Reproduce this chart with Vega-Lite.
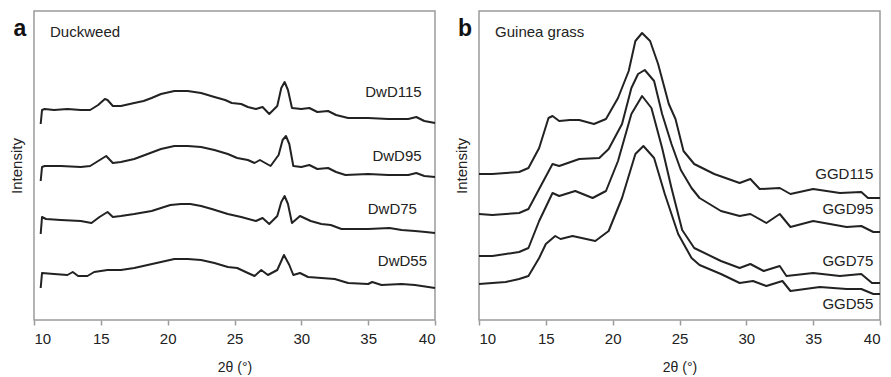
{
  "$schema": "https://vega.github.io/schema/vega-lite/v6.json",
  "background": "white",
  "padding": {"left": 8, "top": 10, "right": 8, "bottom": 2},
  "bounds": "flush",
  "spacing": 44,
  "config": {
    "font": "Liberation Sans",
    "view": {"stroke": "#9a9a9a", "strokeWidth": 1.5},
    "axisX": {
      "grid": false,
      "domain": false,
      "tickSize": 5,
      "tickColor": "#9a9a9a",
      "tickWidth": 1.5,
      "labelFontSize": 15,
      "labelColor": "#222",
      "labelPadding": 6,
      "titleFontSize": 14,
      "titleFontWeight": "normal",
      "titleColor": "#222",
      "titlePadding": 14
    },
    "axisY": {
      "grid": false,
      "domain": false,
      "ticks": false,
      "labels": false,
      "titleFontSize": 15,
      "titleFontWeight": "normal",
      "titleColor": "#222",
      "titlePadding": 10
    }
  },
  "datasets": {
    "dw": [
      {"s": "DwD115", "x": 10.5, "y": 196}, {"s": "DwD115", "x": 10.6, "y": 210}, {"s": "DwD115", "x": 10.8, "y": 211}, {"s": "DwD115", "x": 11.5, "y": 210}, {"s": "DwD115", "x": 12.5, "y": 211}, {"s": "DwD115", "x": 13.5, "y": 210}, {"s": "DwD115", "x": 14.2, "y": 210}, {"s": "DwD115", "x": 14.8, "y": 215}, {"s": "DwD115", "x": 15.3, "y": 221}, {"s": "DwD115", "x": 15.5, "y": 220}, {"s": "DwD115", "x": 15.9, "y": 214}, {"s": "DwD115", "x": 16.5, "y": 214}, {"s": "DwD115", "x": 17.5, "y": 217}, {"s": "DwD115", "x": 18.2, "y": 219}, {"s": "DwD115", "x": 18.8, "y": 222}, {"s": "DwD115", "x": 19.5, "y": 226}, {"s": "DwD115", "x": 20.5, "y": 229}, {"s": "DwD115", "x": 21.5, "y": 229}, {"s": "DwD115", "x": 22.5, "y": 227}, {"s": "DwD115", "x": 23.5, "y": 223}, {"s": "DwD115", "x": 24.3, "y": 220}, {"s": "DwD115", "x": 24.8, "y": 217}, {"s": "DwD115", "x": 25.5, "y": 216}, {"s": "DwD115", "x": 26.0, "y": 213}, {"s": "DwD115", "x": 26.6, "y": 211}, {"s": "DwD115", "x": 27.1, "y": 213}, {"s": "DwD115", "x": 27.6, "y": 206}, {"s": "DwD115", "x": 28.2, "y": 214}, {"s": "DwD115", "x": 28.5, "y": 232}, {"s": "DwD115", "x": 28.75, "y": 238}, {"s": "DwD115", "x": 29.0, "y": 230}, {"s": "DwD115", "x": 29.3, "y": 212}, {"s": "DwD115", "x": 30.0, "y": 211}, {"s": "DwD115", "x": 30.6, "y": 212}, {"s": "DwD115", "x": 31.2, "y": 208}, {"s": "DwD115", "x": 32.0, "y": 209}, {"s": "DwD115", "x": 32.6, "y": 205}, {"s": "DwD115", "x": 33.5, "y": 202}, {"s": "DwD115", "x": 35.0, "y": 202}, {"s": "DwD115", "x": 36.5, "y": 201}, {"s": "DwD115", "x": 38.0, "y": 201}, {"s": "DwD115", "x": 38.6, "y": 203}, {"s": "DwD115", "x": 39.2, "y": 199}, {"s": "DwD115", "x": 40.0, "y": 197},

      {"s": "DwD95", "x": 10.5, "y": 139}, {"s": "DwD95", "x": 10.6, "y": 153}, {"s": "DwD95", "x": 10.8, "y": 154}, {"s": "DwD95", "x": 12.0, "y": 154}, {"s": "DwD95", "x": 13.5, "y": 153}, {"s": "DwD95", "x": 14.2, "y": 154}, {"s": "DwD95", "x": 14.8, "y": 159}, {"s": "DwD95", "x": 15.4, "y": 164}, {"s": "DwD95", "x": 15.9, "y": 157}, {"s": "DwD95", "x": 16.5, "y": 158}, {"s": "DwD95", "x": 17.5, "y": 161}, {"s": "DwD95", "x": 18.5, "y": 166}, {"s": "DwD95", "x": 19.5, "y": 171}, {"s": "DwD95", "x": 20.5, "y": 174}, {"s": "DwD95", "x": 21.5, "y": 174}, {"s": "DwD95", "x": 22.5, "y": 173}, {"s": "DwD95", "x": 23.5, "y": 170}, {"s": "DwD95", "x": 24.5, "y": 166}, {"s": "DwD95", "x": 25.2, "y": 162}, {"s": "DwD95", "x": 26.0, "y": 160}, {"s": "DwD95", "x": 26.5, "y": 157}, {"s": "DwD95", "x": 26.9, "y": 160}, {"s": "DwD95", "x": 27.3, "y": 157}, {"s": "DwD95", "x": 27.7, "y": 154}, {"s": "DwD95", "x": 28.3, "y": 165}, {"s": "DwD95", "x": 28.6, "y": 180}, {"s": "DwD95", "x": 28.85, "y": 184}, {"s": "DwD95", "x": 29.1, "y": 176}, {"s": "DwD95", "x": 29.4, "y": 154}, {"s": "DwD95", "x": 30.0, "y": 153}, {"s": "DwD95", "x": 30.6, "y": 155}, {"s": "DwD95", "x": 31.2, "y": 151}, {"s": "DwD95", "x": 32.0, "y": 152}, {"s": "DwD95", "x": 32.6, "y": 148}, {"s": "DwD95", "x": 33.3, "y": 145}, {"s": "DwD95", "x": 35.0, "y": 146}, {"s": "DwD95", "x": 36.5, "y": 145}, {"s": "DwD95", "x": 38.0, "y": 145}, {"s": "DwD95", "x": 38.6, "y": 147}, {"s": "DwD95", "x": 39.2, "y": 144}, {"s": "DwD95", "x": 40.0, "y": 143},

      {"s": "DwD75", "x": 10.5, "y": 86}, {"s": "DwD75", "x": 10.6, "y": 103}, {"s": "DwD75", "x": 10.9, "y": 101}, {"s": "DwD75", "x": 12.0, "y": 100}, {"s": "DwD75", "x": 13.5, "y": 99}, {"s": "DwD75", "x": 14.3, "y": 97}, {"s": "DwD75", "x": 14.9, "y": 103}, {"s": "DwD75", "x": 15.5, "y": 108}, {"s": "DwD75", "x": 15.9, "y": 103}, {"s": "DwD75", "x": 16.5, "y": 104}, {"s": "DwD75", "x": 17.5, "y": 106}, {"s": "DwD75", "x": 18.8, "y": 109}, {"s": "DwD75", "x": 20.2, "y": 115}, {"s": "DwD75", "x": 21.0, "y": 116}, {"s": "DwD75", "x": 21.7, "y": 116}, {"s": "DwD75", "x": 22.5, "y": 114}, {"s": "DwD75", "x": 23.3, "y": 111}, {"s": "DwD75", "x": 24.5, "y": 106}, {"s": "DwD75", "x": 25.5, "y": 103}, {"s": "DwD75", "x": 26.6, "y": 99}, {"s": "DwD75", "x": 27.1, "y": 102}, {"s": "DwD75", "x": 27.6, "y": 96}, {"s": "DwD75", "x": 28.2, "y": 104}, {"s": "DwD75", "x": 28.5, "y": 118}, {"s": "DwD75", "x": 28.75, "y": 124}, {"s": "DwD75", "x": 29.0, "y": 116}, {"s": "DwD75", "x": 29.3, "y": 97}, {"s": "DwD75", "x": 29.9, "y": 104}, {"s": "DwD75", "x": 30.7, "y": 99}, {"s": "DwD75", "x": 31.5, "y": 96}, {"s": "DwD75", "x": 32.2, "y": 95}, {"s": "DwD75", "x": 33.0, "y": 91}, {"s": "DwD75", "x": 35.0, "y": 91}, {"s": "DwD75", "x": 36.6, "y": 92}, {"s": "DwD75", "x": 37.5, "y": 90}, {"s": "DwD75", "x": 38.5, "y": 89}, {"s": "DwD75", "x": 39.3, "y": 88}, {"s": "DwD75", "x": 40.0, "y": 87},

      {"s": "DwD55", "x": 10.5, "y": 32}, {"s": "DwD55", "x": 10.6, "y": 47}, {"s": "DwD55", "x": 11.5, "y": 46}, {"s": "DwD55", "x": 12.5, "y": 45}, {"s": "DwD55", "x": 12.9, "y": 48}, {"s": "DwD55", "x": 13.3, "y": 44}, {"s": "DwD55", "x": 14.0, "y": 44}, {"s": "DwD55", "x": 14.5, "y": 48}, {"s": "DwD55", "x": 15.5, "y": 50}, {"s": "DwD55", "x": 16.5, "y": 50}, {"s": "DwD55", "x": 17.5, "y": 52}, {"s": "DwD55", "x": 18.5, "y": 55}, {"s": "DwD55", "x": 19.5, "y": 58}, {"s": "DwD55", "x": 20.5, "y": 61}, {"s": "DwD55", "x": 21.5, "y": 61}, {"s": "DwD55", "x": 22.5, "y": 60}, {"s": "DwD55", "x": 23.5, "y": 57}, {"s": "DwD55", "x": 24.5, "y": 53}, {"s": "DwD55", "x": 25.2, "y": 52}, {"s": "DwD55", "x": 26.0, "y": 47}, {"s": "DwD55", "x": 26.5, "y": 44}, {"s": "DwD55", "x": 27.0, "y": 50}, {"s": "DwD55", "x": 27.5, "y": 45}, {"s": "DwD55", "x": 28.2, "y": 50}, {"s": "DwD55", "x": 28.7, "y": 65}, {"s": "DwD55", "x": 29.1, "y": 55}, {"s": "DwD55", "x": 29.4, "y": 45}, {"s": "DwD55", "x": 29.9, "y": 47}, {"s": "DwD55", "x": 30.5, "y": 43}, {"s": "DwD55", "x": 31.5, "y": 42}, {"s": "DwD55", "x": 32.5, "y": 41}, {"s": "DwD55", "x": 33.5, "y": 37}, {"s": "DwD55", "x": 35.0, "y": 36}, {"s": "DwD55", "x": 35.3, "y": 38}, {"s": "DwD55", "x": 36.0, "y": 35}, {"s": "DwD55", "x": 37.5, "y": 36}, {"s": "DwD55", "x": 38.5, "y": 35}, {"s": "DwD55", "x": 40.0, "y": 32}
    ],
    "gg": [
      {"s": "GGD115", "x": 10.0, "y": 146}, {"s": "GGD115", "x": 11.0, "y": 146}, {"s": "GGD115", "x": 12.0, "y": 147}, {"s": "GGD115", "x": 13.0, "y": 148}, {"s": "GGD115", "x": 13.7, "y": 152}, {"s": "GGD115", "x": 14.5, "y": 172}, {"s": "GGD115", "x": 15.2, "y": 202}, {"s": "GGD115", "x": 15.5, "y": 204}, {"s": "GGD115", "x": 16.0, "y": 199}, {"s": "GGD115", "x": 16.8, "y": 200}, {"s": "GGD115", "x": 17.5, "y": 200}, {"s": "GGD115", "x": 18.6, "y": 196}, {"s": "GGD115", "x": 19.5, "y": 201}, {"s": "GGD115", "x": 20.4, "y": 222}, {"s": "GGD115", "x": 21.2, "y": 249}, {"s": "GGD115", "x": 21.7, "y": 279}, {"s": "GGD115", "x": 22.2, "y": 287}, {"s": "GGD115", "x": 22.8, "y": 279}, {"s": "GGD115", "x": 23.4, "y": 256}, {"s": "GGD115", "x": 24.2, "y": 216}, {"s": "GGD115", "x": 24.7, "y": 201}, {"s": "GGD115", "x": 25.3, "y": 169}, {"s": "GGD115", "x": 26.1, "y": 156}, {"s": "GGD115", "x": 27.6, "y": 146}, {"s": "GGD115", "x": 29.5, "y": 137}, {"s": "GGD115", "x": 30.3, "y": 141}, {"s": "GGD115", "x": 31.0, "y": 131}, {"s": "GGD115", "x": 32.5, "y": 132}, {"s": "GGD115", "x": 33.3, "y": 126}, {"s": "GGD115", "x": 35.0, "y": 131}, {"s": "GGD115", "x": 37.0, "y": 127}, {"s": "GGD115", "x": 38.6, "y": 128}, {"s": "GGD115", "x": 39.1, "y": 122}, {"s": "GGD115", "x": 40.0, "y": 122},

      {"s": "GGD95", "x": 10.0, "y": 106}, {"s": "GGD95", "x": 11.0, "y": 105}, {"s": "GGD95", "x": 12.0, "y": 106}, {"s": "GGD95", "x": 13.0, "y": 107}, {"s": "GGD95", "x": 13.7, "y": 111}, {"s": "GGD95", "x": 14.7, "y": 136}, {"s": "GGD95", "x": 15.5, "y": 156}, {"s": "GGD95", "x": 16.0, "y": 154}, {"s": "GGD95", "x": 17.5, "y": 161}, {"s": "GGD95", "x": 19.0, "y": 162}, {"s": "GGD95", "x": 19.7, "y": 171}, {"s": "GGD95", "x": 20.7, "y": 196}, {"s": "GGD95", "x": 21.4, "y": 232}, {"s": "GGD95", "x": 21.9, "y": 246}, {"s": "GGD95", "x": 22.4, "y": 250}, {"s": "GGD95", "x": 23.1, "y": 239}, {"s": "GGD95", "x": 23.7, "y": 206}, {"s": "GGD95", "x": 24.4, "y": 176}, {"s": "GGD95", "x": 25.1, "y": 150}, {"s": "GGD95", "x": 25.9, "y": 132}, {"s": "GGD95", "x": 26.5, "y": 122}, {"s": "GGD95", "x": 28.1, "y": 109}, {"s": "GGD95", "x": 29.5, "y": 104}, {"s": "GGD95", "x": 30.3, "y": 106}, {"s": "GGD95", "x": 31.5, "y": 97}, {"s": "GGD95", "x": 32.5, "y": 106}, {"s": "GGD95", "x": 33.3, "y": 93}, {"s": "GGD95", "x": 35.0, "y": 99}, {"s": "GGD95", "x": 37.5, "y": 93}, {"s": "GGD95", "x": 38.6, "y": 94}, {"s": "GGD95", "x": 39.5, "y": 88}, {"s": "GGD95", "x": 40.0, "y": 88},

      {"s": "GGD75", "x": 10.0, "y": 64}, {"s": "GGD75", "x": 11.0, "y": 64}, {"s": "GGD75", "x": 12.0, "y": 66}, {"s": "GGD75", "x": 13.0, "y": 68}, {"s": "GGD75", "x": 13.7, "y": 72}, {"s": "GGD75", "x": 14.5, "y": 99}, {"s": "GGD75", "x": 15.5, "y": 127}, {"s": "GGD75", "x": 16.0, "y": 124}, {"s": "GGD75", "x": 17.2, "y": 129}, {"s": "GGD75", "x": 18.5, "y": 122}, {"s": "GGD75", "x": 19.5, "y": 129}, {"s": "GGD75", "x": 20.4, "y": 159}, {"s": "GGD75", "x": 21.4, "y": 206}, {"s": "GGD75", "x": 22.2, "y": 224}, {"s": "GGD75", "x": 22.9, "y": 212}, {"s": "GGD75", "x": 23.7, "y": 172}, {"s": "GGD75", "x": 24.4, "y": 132}, {"s": "GGD75", "x": 25.2, "y": 90}, {"s": "GGD75", "x": 26.1, "y": 72}, {"s": "GGD75", "x": 28.1, "y": 59}, {"s": "GGD75", "x": 29.5, "y": 52}, {"s": "GGD75", "x": 30.3, "y": 56}, {"s": "GGD75", "x": 31.3, "y": 49}, {"s": "GGD75", "x": 32.5, "y": 54}, {"s": "GGD75", "x": 33.0, "y": 44}, {"s": "GGD75", "x": 35.0, "y": 47}, {"s": "GGD75", "x": 37.0, "y": 44}, {"s": "GGD75", "x": 38.6, "y": 46}, {"s": "GGD75", "x": 39.4, "y": 37}, {"s": "GGD75", "x": 40.0, "y": 37},

      {"s": "GGD55", "x": 10.0, "y": 36}, {"s": "GGD55", "x": 11.0, "y": 37}, {"s": "GGD55", "x": 12.0, "y": 38}, {"s": "GGD55", "x": 13.0, "y": 41}, {"s": "GGD55", "x": 13.7, "y": 44}, {"s": "GGD55", "x": 14.5, "y": 62}, {"s": "GGD55", "x": 15.0, "y": 76}, {"s": "GGD55", "x": 15.7, "y": 84}, {"s": "GGD55", "x": 16.1, "y": 81}, {"s": "GGD55", "x": 17.0, "y": 84}, {"s": "GGD55", "x": 18.7, "y": 79}, {"s": "GGD55", "x": 19.7, "y": 89}, {"s": "GGD55", "x": 20.7, "y": 122}, {"s": "GGD55", "x": 21.7, "y": 166}, {"s": "GGD55", "x": 22.3, "y": 174}, {"s": "GGD55", "x": 23.1, "y": 162}, {"s": "GGD55", "x": 23.9, "y": 126}, {"s": "GGD55", "x": 24.9, "y": 86}, {"s": "GGD55", "x": 25.9, "y": 62}, {"s": "GGD55", "x": 26.5, "y": 55}, {"s": "GGD55", "x": 28.1, "y": 46}, {"s": "GGD55", "x": 29.5, "y": 37}, {"s": "GGD55", "x": 30.5, "y": 39}, {"s": "GGD55", "x": 31.5, "y": 34}, {"s": "GGD55", "x": 32.7, "y": 39}, {"s": "GGD55", "x": 33.3, "y": 29}, {"s": "GGD55", "x": 35.5, "y": 33}, {"s": "GGD55", "x": 37.5, "y": 31}, {"s": "GGD55", "x": 38.6, "y": 31}, {"s": "GGD55", "x": 39.5, "y": 26}, {"s": "GGD55", "x": 40.0, "y": 26}
    ],
    "dwlab": [
      {"t": "DwD115", "x": 39.0, "y": 228},
      {"t": "DwD95", "x": 39.0, "y": 164},
      {"t": "DwD75", "x": 38.65, "y": 111},
      {"t": "DwD55", "x": 39.4, "y": 59}
    ],
    "gglab": [
      {"t": "GGD115", "x": 39.5, "y": 146},
      {"t": "GGD95", "x": 39.5, "y": 111},
      {"t": "GGD75", "x": 39.5, "y": 59},
      {"t": "GGD55", "x": 39.5, "y": 16}
    ],
    "dwhead": [
      {"t": "Duckweed", "x": 11.2, "y": 288, "k": "title"},
      {"t": "a", "x": 8.95, "y": 291, "k": "letter"}
    ],
    "gghead": [
      {"t": "Guinea grass", "x": 11.2, "y": 288, "k": "title"},
      {"t": "b", "x": 8.95, "y": 291, "k": "letter"}
    ]
  },
  "resolve": {"scale": {"x": "independent", "y": "independent"}},
  "hconcat": [
    {
      "width": 401,
      "height": 309,
      "layer": [
        {
          "data": {"name": "dw"},
          "mark": {"type": "line", "color": "#222", "strokeWidth": 2, "strokeJoin": "round"},
          "encoding": {
            "x": {"field": "x", "type": "quantitative", "scale": {"domain": [10, 40], "nice": false, "zero": false}, "axis": {"values": [10, 15, 20, 25, 30, 35, 40]}, "title": "2θ (°)"},
            "y": {"field": "y", "type": "quantitative", "scale": {"domain": [0, 309], "nice": false, "zero": false}, "title": "Intensity"},
            "detail": {"field": "s"}
          }
        },
        {
          "data": {"name": "dwlab"},
          "mark": {"type": "text", "align": "right", "baseline": "middle", "fontSize": 15, "color": "#222"},
          "encoding": {
            "x": {"field": "x", "type": "quantitative"},
            "y": {"field": "y", "type": "quantitative"},
            "text": {"field": "t"}
          }
        },
        {
          "data": {"name": "dwhead"},
          "transform": [{"filter": "datum.k == 'title'"}],
          "mark": {"type": "text", "align": "left", "baseline": "middle", "fontSize": 15, "color": "#222"},
          "encoding": {
            "x": {"field": "x", "type": "quantitative"},
            "y": {"field": "y", "type": "quantitative"},
            "text": {"field": "t"}
          }
        },
        {
          "data": {"name": "dwhead"},
          "transform": [{"filter": "datum.k == 'letter'"}],
          "mark": {"type": "text", "align": "center", "baseline": "middle", "fontSize": 23, "fontWeight": "bold", "color": "#111"},
          "encoding": {
            "x": {"field": "x", "type": "quantitative"},
            "y": {"field": "y", "type": "quantitative"},
            "text": {"field": "t"}
          }
        }
      ]
    },
    {
      "width": 401,
      "height": 309,
      "layer": [
        {
          "data": {"name": "gg"},
          "mark": {"type": "line", "color": "#222", "strokeWidth": 2, "strokeJoin": "round"},
          "encoding": {
            "x": {"field": "x", "type": "quantitative", "scale": {"domain": [10, 40], "nice": false, "zero": false}, "axis": {"values": [10, 15, 20, 25, 30, 35, 40]}, "title": "2θ (°)"},
            "y": {"field": "y", "type": "quantitative", "scale": {"domain": [0, 309], "nice": false, "zero": false}, "title": "Intensity"},
            "detail": {"field": "s"}
          }
        },
        {
          "data": {"name": "gglab"},
          "mark": {"type": "text", "align": "right", "baseline": "middle", "fontSize": 15, "color": "#222"},
          "encoding": {
            "x": {"field": "x", "type": "quantitative"},
            "y": {"field": "y", "type": "quantitative"},
            "text": {"field": "t"}
          }
        },
        {
          "data": {"name": "gghead"},
          "transform": [{"filter": "datum.k == 'title'"}],
          "mark": {"type": "text", "align": "left", "baseline": "middle", "fontSize": 15, "color": "#222"},
          "encoding": {
            "x": {"field": "x", "type": "quantitative"},
            "y": {"field": "y", "type": "quantitative"},
            "text": {"field": "t"}
          }
        },
        {
          "data": {"name": "gghead"},
          "transform": [{"filter": "datum.k == 'letter'"}],
          "mark": {"type": "text", "align": "center", "baseline": "middle", "fontSize": 23, "fontWeight": "bold", "color": "#111"},
          "encoding": {
            "x": {"field": "x", "type": "quantitative"},
            "y": {"field": "y", "type": "quantitative"},
            "text": {"field": "t"}
          }
        }
      ]
    }
  ]
}
